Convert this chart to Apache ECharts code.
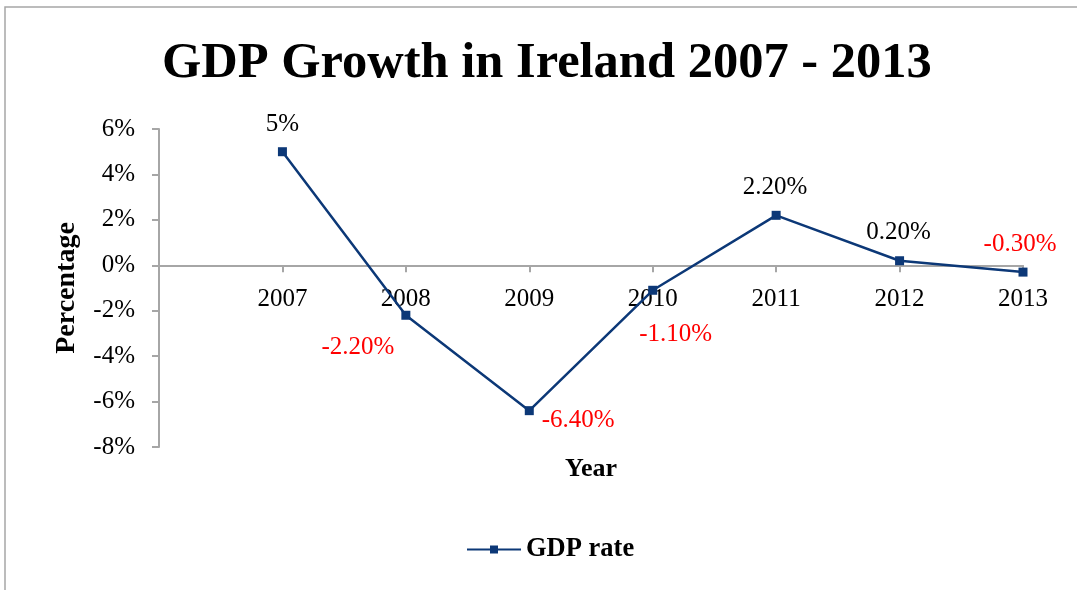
<!DOCTYPE html>
<html>
<head>
<meta charset="utf-8">
<script src="https://cdn.jsdelivr.net/npm/echarts@6/dist/echarts.min.js"></script>
<style>html,body{margin:0;padding:0;background:#fff}#c{width:1077px;height:590px}</style>
</head>
<body>
<div id="c"></div>
<script>
const years = [2007, 2008, 2009, 2010, 2011, 2012, 2013];
const gdpRate = [5, -2.2, -6.4, -1.1, 2.2, 0.2, -0.3];
const pointLabels = ['5%', '-2.20%', '-6.40%', '-1.10%', '2.20%', '0.20%', '-0.30%'];
const yTicks = [-8, -6, -4, -2, 0, 2, 4, 6];

const FONT = '"Liberation Serif", "Times New Roman", serif';
const labelStyles = [
  { position: 'top', color: '#000', offset: [0, -5] },
  { position: 'bottom', color: '#ff0000', offset: [-48, 10] },
  { position: 'right', color: '#ff0000', offset: [3, 10] },
  { position: 'bottom', color: '#ff0000', offset: [23, 22] },
  { position: 'top', color: '#000', offset: [-1, -6] },
  { position: 'top', color: '#000', offset: [-1, -6] },
  { position: 'top', color: '#ff0000', offset: [-3, -6] }
];

const chart = echarts.init(document.getElementById('c'));
chart.setOption({
  backgroundColor: '#fff',
  animation: false,
  graphic: [{
    type: 'rect', shape: { x: 5, y: 7, width: 2000, height: 2000 },
    style: { fill: 'none', stroke: '#a6a6a6', lineWidth: 1.5 }, silent: true
  }],
  title: {
    text: 'GDP Growth in Ireland 2007 - 2013',
    left: 157, top: 33,
    textStyle: { fontFamily: FONT, fontSize: 50.5, fontWeight: 'bold', color: '#000' }
  },
  legend: {
    bottom: 22, left: 461,
    itemWidth: 54, itemHeight: 10, itemGap: 10,
    textStyle: { fontFamily: FONT, fontSize: 26.5, fontWeight: 'bold', color: '#000' },
    data: ['GDP rate']
  },
  grid: { left: 159, right: 54, top: 129, bottom: 143, containLabel: false, outerBoundsMode: 'none' },
  xAxis: {
    type: 'value', min: 2006, max: 2013, interval: 1,
    name: 'Year', nameLocation: 'middle', nameGap: 9,
    nameTextStyle: { fontFamily: FONT, fontSize: 26, fontWeight: 'bold', color: '#000' },
    axisLine: { onZero: true, lineStyle: { color: '#a6a6a6', width: 2 } },
    axisTick: { show: true, length: 7, lineStyle: { color: '#a6a6a6', width: 2 } },
    axisLabel: {
      margin: -160, fontFamily: FONT, fontSize: 25, color: '#000',
      showMinLabel: true, showMaxLabel: true,
      formatter: v => (years.indexOf(v) >= 0 ? String(v) : '')
    },
    splitLine: { show: false }
  },
  yAxis: {
    type: 'value', min: yTicks[0], max: yTicks[yTicks.length - 1], interval: 2,
    name: 'Percentage', nameLocation: 'middle', nameGap: 78,
    nameTextStyle: { fontFamily: FONT, fontSize: 28, fontWeight: 'bold', color: '#000' },
    axisLine: { show: true, onZero: false, lineStyle: { color: '#a6a6a6', width: 2 } },
    axisTick: { show: true, length: 7, lineStyle: { color: '#a6a6a6', width: 2 } },
    axisLabel: { margin: 24, fontFamily: FONT, fontSize: 25, color: '#000', formatter: v => v + '%' },
    splitLine: { show: false }
  },
  series: [{
    name: 'GDP rate', type: 'line',
    symbol: 'rect', symbolSize: 9,
    itemStyle: { color: '#0c3877' },
    lineStyle: { color: '#0c3877', width: 2.5 },
    data: years.map((y, i) => ({
      value: [y, gdpRate[i]],
      label: Object.assign({ show: true, formatter: pointLabels[i], fontFamily: FONT, fontSize: 25 }, labelStyles[i])
    }))
  }]
});
</script>
</body>
</html>
